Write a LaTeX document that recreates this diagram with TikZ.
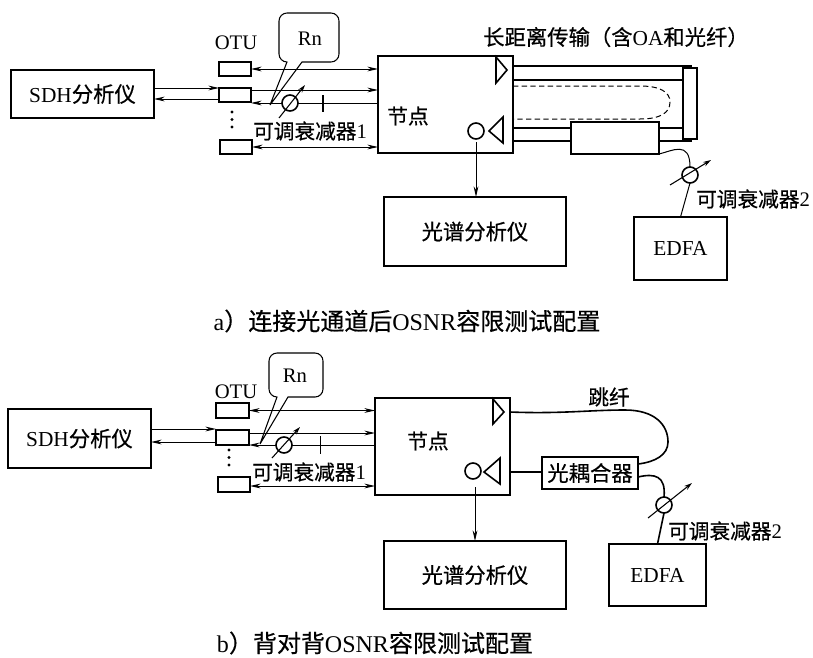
\documentclass[tikz,border=0pt]{standalone}
\usepackage{fontspec}
\setmainfont{Liberation Serif}
\newfontfamily\cjkfam[FakeBold=0.5]{Noto Sans CJK SC}
\newcommand{\zh}[1]{{\cjkfam #1}}
\usetikzlibrary{arrows.meta}
\newcommand{\pxbox}[7][bx]{%
  \node[#1,minimum width={(#4-#2)*0.75pt},minimum height={(#5-#3)*0.75pt}] (#6) at ({(#2+#4)/2},{(#3+#5)/2}) {#7};}
\tikzset{
  bx/.style={draw,line width=1.2pt,inner sep=0pt,outer sep=0pt,fill=white,font=\fontsize{16}{16}\selectfont},
  otu/.style={bx},
  lbl/.style={inner sep=0pt,font=\fontsize{15.5}{16}\selectfont,text=black},
  captext/.style={inner sep=0pt,font=\fontsize{18}{18}\selectfont,text=black},
  thin line/.style={line width=0.75pt},
  sig/.style={thin line,-{Stealth[length=8pt,width=3.6pt]}},
  sigb/.style={thin line,{Stealth[length=8pt,width=3.6pt]}-{Stealth[length=8pt,width=3.6pt]}},
  fib/.style={line width=1.2pt},
  tri/.style={line width=1.2pt,line join=miter},
  att/.style={draw,circle,line width=1.2pt,fill=white,inner sep=0pt,outer sep=0pt,minimum size=12pt},
  knob/.style={line width=0.8pt,-{Stealth[length=6pt,width=3.6pt]}},
  callout/.style={line width=0.8pt},
}
\begin{document}
\begin{tikzpicture}[x=0.75pt,y=-0.75pt]
\useasboundingbox[fill=white] (0,0) rectangle (813,657);

% ---------- Panel a ----------
\pxbox{11}{70}{154}{118}{sdhA}{SDH\zh{分析仪}}
\pxbox[otu]{219}{62}{251}{76}{otuA1}{}
\pxbox[otu]{219}{88}{251}{102}{otuA2}{}
\pxbox[otu]{220}{140}{252}{154}{otuA3}{}
\pxbox{378}{56}{513}{153}{nodeA}{}
\pxbox{384}{197}{566}{266}{specA}{\zh{光谱分析仪}}
\pxbox{571}{122}{659}{154}{oaA}{}
\pxbox{634}{217}{727}{280}{edfaA}{EDFA}
\pxbox{683}{68}{697}{139}{barA}{}

\node[lbl] (otuTextA) at (236,43) {OTU};
\node[lbl] (rnA) at (310,39) {Rn};
\node[lbl] (nodeTextA) at (408,116) {\zh{节点}};
\node[lbl] (attTextA1) at (310,131) {\zh{可调衰减器}1};
\node[lbl] (attTextA2) at (753,199) {\zh{可调衰减器}2};
\node[lbl,font=\fontsize{16}{16}\selectfont] (titleA) at (616,37) {\zh{长距离传输（含}OA\zh{和光纤）}};
\node[captext] (capA) at (407,321) {a\zh{）连接光通道后}OSNR\zh{容限测试配置}};

\draw[callout] (270,105) -- (287,62) [rounded corners=6pt] -- (279,62) -- (279,13) -- (339,13) -- (339,62) [sharp corners] -- (302,62) -- (270,105);

\draw[sig] (sdhA.east |- 0,88) -- (otuA2.west |- 0,88);
\draw[sig] (otuA2.west |- 0,99) -- (sdhA.east |- 0,99);
\draw[sigb] (otuA1.east) -- (nodeA.west |- otuA1.east);
\draw[sig] (otuA2.east |- 0,90) -- (nodeA.west |- 0,90);
\draw[sig] (nodeA.west |- 0,103) -- (otuA2.east |- 0,103);
\draw[sigb] (otuA3.east) -- (nodeA.west |- otuA3.east);
\draw[line width=1pt] (323,95) -- (323,112);

\node[att] (attA1) at (290,103) {};
\coordinate (attA1a) at (279,118); \coordinate (attA1b) at (305,85);
\draw[knob] (attA1a) -- (attA1b);
\fill (232,112) circle (1.2pt) (232,119.5) circle (1.2pt) (232,127) circle (1.2pt);

\draw[tri] (496,57) -- (507,70) -- (496,83) -- cycle;
\draw[tri] (503,117) -- (489,131) -- (503,143) -- cycle;
\node[att] (portA) at (476,131) {};
\draw[sig] (portA.south) ++(0,3) -- (specA.north -| portA.south);

\draw[fib] (nodeA.east |- 0,66) -- (692,66);
\draw[fib] (nodeA.east |- 0,80) -- (barA.west |- 0,80);
\draw[fib] (nodeA.east |- 0,128) -- (oaA.west |- 0,128);
\draw[fib] (nodeA.east |- 0,141) -- (oaA.west |- 0,141);
\draw[fib] (oaA.east |- 0,128) -- (barA.west |- 0,128);
\draw[fib] (oaA.east |- 0,141) -- (692,141);
\draw[thin line,dash pattern=on 4pt off 2.5pt] (nodeA.east |- 0,86) -- (640,86) .. controls (660,86) and (670,92) .. (670,102) .. controls (670,113) and (660,119) .. (640,119) -- (nodeA.east |- 0,119);

\node[att] (attA2) at (690,175) {};
\draw[thin line] (oaA.south east) .. controls (672,151) and (690,140) .. (attA2.north);
\draw[thin line] (attA2.south) -- (edfaA.north);
\coordinate (attA2a) at (670,185); \coordinate (attA2b) at (711,160);
\draw[knob] (attA2a) -- (attA2b);

% ---------- Panel b ----------
\pxbox{8}{409}{151}{468}{sdhB}{SDH\zh{分析仪}}
\pxbox[otu]{216}{403}{249}{418}{otuB1}{}
\pxbox[otu]{216}{430}{249}{445}{otuB2}{}
\pxbox[otu]{218}{477}{250}{492}{otuB3}{}
\pxbox{375}{398}{510}{495}{nodeB}{}
\pxbox{384}{541}{566}{609}{specB}{\zh{光谱分析仪}}
\pxbox{609}{544}{706}{606}{edfaB}{EDFA}
\pxbox{542}{457}{638}{489}{coupB}{\zh{光耦合器}}

\node[lbl] (otuTextB) at (236,392) {OTU};
\node[lbl] (rnB) at (295,376) {Rn};
\node[lbl] (nodeTextB) at (428,441) {\zh{节点}};
\node[lbl] (attTextB1) at (309,472) {\zh{可调衰减器}1};
\node[lbl] (attTextB2) at (725,531) {\zh{可调衰减器}2};
\node[lbl] (jumpB) at (609,397) {\zh{跳纤}};
\node[captext] (capB) at (375,643) {b\zh{）背对背}OSNR\zh{容限测试配置}};

\draw[callout] (260,444) -- (277,397) [rounded corners=6pt] -- (269,397) -- (269,353) -- (323,353) -- (323,397) [sharp corners] -- (288,397) -- (260,444);

\draw[sig] (sdhB.east |- 0,429) -- (otuB2.west |- 0,429);
\draw[sig] (otuB2.west |- 0,442) -- (sdhB.east |- 0,442);
\draw[sigb] (otuB1.east) -- (nodeB.west |- otuB1.east);
\draw[sig] (otuB2.east |- 0,433) -- (nodeB.west |- 0,433);
\draw[sig] (nodeB.west |- 0,445) -- (otuB2.east |- 0,445);
\draw[sigb] (otuB3.east |- 0,486) -- (nodeB.west |- 0,486);
\draw[thin line] (320,436) -- (320,454);

\node[att] (attB1) at (284,445) {};
\coordinate (attB1a) at (272,458); \coordinate (attB1b) at (300,427);
\draw[knob] (attB1a) -- (attB1b);
\fill (229,450) circle (1.2pt) (229,457.5) circle (1.2pt) (229,465) circle (1.2pt);

\draw[tri] (493,399) -- (504,412) -- (493,424) -- cycle;
\draw[tri] (500,458) -- (484,472) -- (500,484) -- cycle;
\node[att] (portB) at (473,471) {};
\draw[sig] (475,487) -- (specB.north -| 475,487);

\draw[fib] (nodeB.east |- 0,412) .. controls (560,414) and (590,410) .. (625,410) .. controls (655,410) and (668,425) .. (668,442) .. controls (668,455) and (655,462) .. (coupB.east |- 0,464);
\draw[fib] (nodeB.east |- 0,472) -- (coupB.west |- 0,472);
\node[att] (attB2) at (664,505) {};
\draw[fib] (coupB.east |- 0,477) .. controls (655,473) and (666,476) .. (attB2.north);
\draw[fib] (attB2.south) -- (edfaB.north);
\coordinate (attB2a) at (648,518); \coordinate (attB2b) at (692,483);
\draw[knob] (attB2a) -- (attB2b);
\end{tikzpicture}
\end{document}
